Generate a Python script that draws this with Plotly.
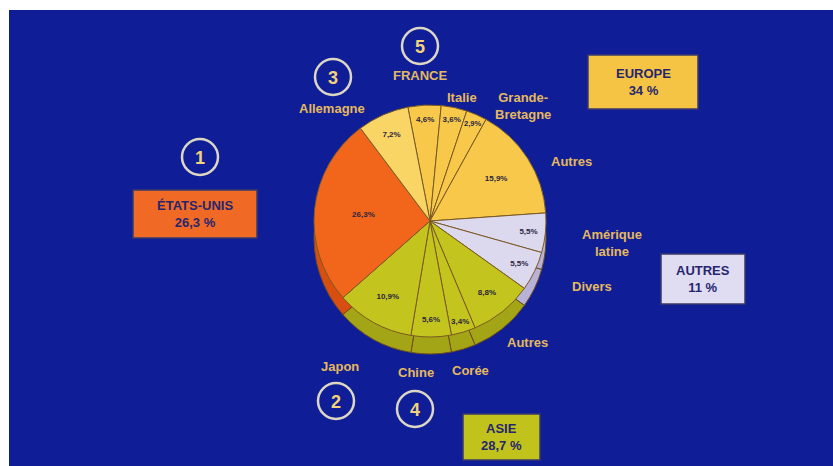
import plotly.graph_objects as go

# ---- data ----
countries = ["France", "Italie", "Grande-Bretagne", "Autres Europe",
             "Amérique latine", "Divers",
             "Autres Asie", "Corée", "Chine", "Japon",
             "États-Unis", "Allemagne"]
shares = [4.6, 3.6, 2.9, 15.9, 5.5, 5.5, 8.8, 3.4, 5.6, 10.9, 26.3, 7.2]
regions = ["Europe", "Europe", "Europe", "Europe", "Autres", "Autres",
           "Asie", "Asie", "Asie", "Asie", "États-Unis", "Europe"]
region_names = ["ÉTATS-UNIS", "EUROPE", "AUTRES", "ASIE"]
region_shares = ["26,3 %", "34 %", "11 %", "28,7 %"]
ranks = ["1", "2", "3", "4", "5"]

W, H = 833, 466
top_col = {"Europe": "#F7C84A", "Autres": "#DCD8EE", "Asie": "#C4C41E", "États-Unis": "#F2661C"}
side_col = {"Europe": "#D9A42E", "Autres": "#B8B2D8", "Asie": "#A3A516", "États-Unis": "#D84E10"}
colors = [top_col[r] for r in regions]
colors[-1] = "#F9D566"  # Allemagne slightly lighter
side_colors = [side_col[r] for r in regions]
texts = [f"<b>{v:.1f}%</b>".replace(".", ",") for v in shares]

cx, cy, R, depth = 430, 221, 116, 17


def dom(cxp, cyp, r):
    return dict(x=[(cxp - r) / W, (cxp + r) / W],
                y=[1 - (cyp + r) / H, 1 - (cyp - r) / H])


fig = go.Figure()
# side (3D depth) pie
fig.add_trace(go.Pie(values=shares, labels=countries, sort=False, direction="clockwise",
                     rotation=-11, domain=dom(cx, cy + depth, R),
                     marker=dict(colors=side_colors, line=dict(color="#6E4E1E", width=1)),
                     textinfo="none", hoverinfo="skip", showlegend=False))
# top face
fig.add_trace(go.Pie(values=shares, labels=countries, sort=False, direction="clockwise",
                     rotation=-11, domain=dom(cx, cy, R),
                     marker=dict(colors=colors, line=dict(color="#7A5A24", width=1)),
                     text=texts, texttemplate="%{text}", textposition="inside",
                     insidetextorientation="horizontal",
                     textfont=dict(family="Liberation Sans", size=8, color="#2A2540"),
                     hoverinfo="label+value", showlegend=False))

shapes = [dict(type="rect", xref="paper", yref="paper", x0=9 / W, x1=1, y0=0, y1=1 - 10 / H,
               fillcolor="#0F1E96", line=dict(width=0), layer="below")]

annotations = []
lab_font = dict(family="Liberation Sans", size=13, color="#E4B95E")


def px_text(x, y, t, font=lab_font):
    annotations.append(dict(x=x / W, y=1 - y / H, xref="paper", yref="paper", text=t,
                            showarrow=False, font=font, xanchor="center", yanchor="middle"))


labels_pos = [
    (332, 109, "<b>Allemagne</b>"), (420, 76, "<b>FRANCE</b>"), (462, 97, "<b>Italie</b>"),
    (523, 106, "<b>Grande-<br>Bretagne</b>"), (571, 161, "<b>Autres</b>"),
    (612, 243, "<b>Amérique<br>latine</b>"), (592, 286, "<b>Divers</b>"),
    (527, 342, "<b>Autres</b>"), (340, 366, "<b>Japon</b>"), (416, 372, "<b>Chine</b>"),
    (470, 370, "<b>Corée</b>"),
]
for x, y, t in labels_pos:
    px_text(x, y, t)

# rank circles
circ_pos = [(200, 157), (336, 401), (333, 77), (415, 409), (420, 46)]
for (x, y), n in zip(circ_pos, ranks):
    r = 18
    shapes.append(dict(type="circle", xref="paper", yref="paper",
                       x0=(x - r) / W, x1=(x + r) / W, y0=1 - (y + r) / H, y1=1 - (y - r) / H,
                       line=dict(color="#DCD6C4", width=2.5)))
    px_text(x, y + 1, f"<b>{n}</b>", dict(family="Liberation Sans", size=18, color="#F2D27A"))

# region boxes
boxes = [(133, 190, 257, 238, "#F06A26"), (588, 55, 698, 109, "#F5C444"),
         (661, 254, 745, 304, "#E0DCF2"), (463, 414, 540, 460, "#C2C21C")]
for (x0, y0, x1, y1, c), nm, sh in zip(boxes, region_names, region_shares):
    shapes.append(dict(type="rect", xref="paper", yref="paper",
                       x0=x0 / W, x1=x1 / W, y0=1 - y1 / H, y1=1 - y0 / H,
                       fillcolor=c, line=dict(color="#3A3A6A", width=1.5)))
    px_text((x0 + x1) / 2, (y0 + y1) / 2, f"<b>{nm}<br>{sh}</b>",
            dict(family="Liberation Sans", size=13, color="#26266E"))

fig.update_layout(width=W, height=H, margin=dict(l=0, r=0, t=0, b=0),
                  paper_bgcolor="white", plot_bgcolor="white",
                  shapes=shapes, annotations=annotations)
fig.write_html("out.html")
